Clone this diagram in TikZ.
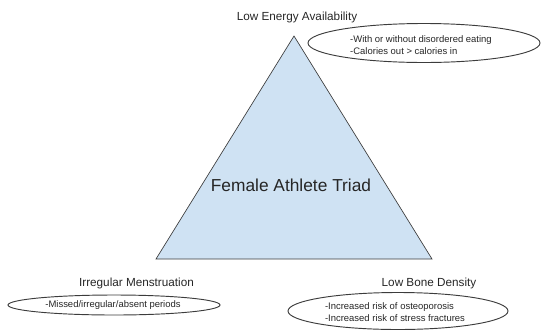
\documentclass[tikz,border=0pt]{standalone}
\usepackage{fontspec}
\setmainfont{Liberation Sans}
\usepackage{tikz}
\usetikzlibrary{shapes.geometric}
\definecolor{triadblue}{HTML}{CFE2F3}
\definecolor{lineg}{HTML}{3C3C3C}
\tikzset{
	corner/.style={font=\fontsize{8.8}{10.5}\selectfont,text=black!85,inner sep=0pt},
	notetext/.style={font=\fontsize{7.1}{8.6}\selectfont,align=left,text=black!85,inner sep=0pt},
	note/.style={draw=lineg,line width=0.7pt}
}

\begin{document}
\begin{tikzpicture}[x=0.75pt,y=-0.75pt]
			\useasboundingbox (0,0) rectangle (541,329);
			\draw[lineg,fill=triadblue,line width=0.5pt] (294,36) -- (432,259) -- (156,259) -- cycle;
			\node[font=\fontsize{13}{15}\selectfont,text=black!85] (triad) at (291,185) {Female Athlete Triad};
			\node[corner] (lea) at (297,17) {Low Energy Availability};
			\node[corner] (irr) at (136.5,283) {Irregular Menstruation};
			\node[corner] (lbd) at (429,283) {Low Bone Density};
			\draw[note] (424,43) ellipse [x radius=116, y radius=19.5];
			\node[notetext] (leanote) at (421,45) {-With or without disordered eating\\-Calories out > calories in};
			\draw[note] (114,305) ellipse [x radius=106, y radius=10];
			\node[notetext] (irrnote) at (113,305) {-Missed/irregular/absent periods};
			\draw[note] (398,311) ellipse [x radius=110, y radius=18.5];
			\node[notetext] (lbdnote) at (395,312) {-Increased risk of osteoporosis\\-Increased risk of stress fractures};
		%	\draw[help lines] (0,0) grid[step=50] (541,329);
			\end{tikzpicture}
\end{document}
